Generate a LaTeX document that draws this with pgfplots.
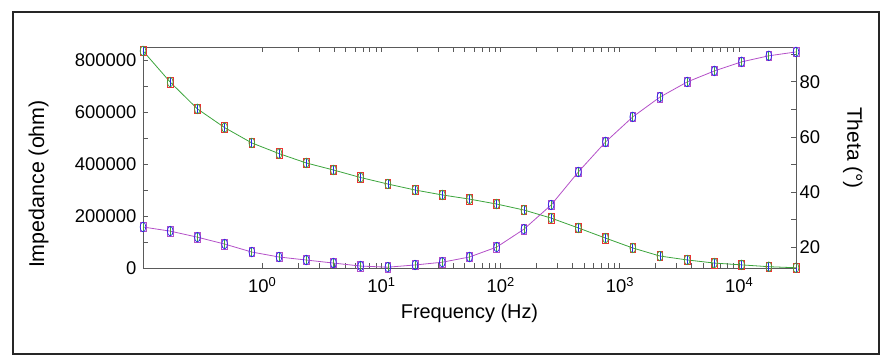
\documentclass[border=0pt]{standalone}
\usepackage{pgfplots}
\usepackage{pgfplotstable}
\pgfplotsset{compat=1.18}
\usepackage{fontspec}
\setmainfont{Liberation Sans}
\definecolor{zgreen}{RGB}{60,165,60}
\definecolor{tpurple}{RGB}{180,80,200}
\definecolor{mred}{RGB}{235,50,50}
\definecolor{mblue}{RGB}{40,40,235}
\definecolor{axgray}{RGB}{90,90,90}

\pgfplotstableread{
f Z T
0.1 835000 27.3
0.1691 715000 25.8
0.2860 612000 23.6
0.4837 540000 21.1
0.8180 481000 18.2
1.3836 440000 16.4
2.340 404000 15.3
3.957 377000 14.2
6.693 348000 13.1
11.32 323000 12.7
19.15 300000 13.5
32.38 281000 14.5
54.77 265000 16.4
92.63 246000 20.0
156.7 223000 26.5
265.0 192000 35.3
448.2 154000 47.3
758.0 115000 58.2
1282 77000 67.3
2168 46000 74.5
3667 31000 80.0
6202 19000 84.0
10486 12000 87.3
17738 5000 89.5
30000 1000 90.9
}\datatable

\begin{document}
\begin{tikzpicture}
\path[use as bounding box] (0,0) rectangle (886bp,-364bp);
\draw[line width=2bp, black!85] (13bp,-12bp) rectangle (879bp,-354bp);

\begin{axis}[
  at={(143bp,-268bp)}, anchor=south west,
  width=653bp, height=221bp, scale only axis,
  xmode=log, xmin=0.1, xmax=30000,
  axis line style={axgray, line width=0.9bp},
  tick style={axgray, line width=0.9bp},
  major tick length=5bp, minor tick length=5bp,
  tick align=inside,
  tick label style={font=\fontsize{18.5}{18.5}\selectfont},
  yticklabel style={xshift=-3bp, /pgf/number format/assume math mode=true, /pgf/number format/fixed, /pgf/number format/1000 sep={}},
  xticklabel style={yshift=-6bp},
  scaled y ticks=false,
  clip=false,
  ymin=0, ymax=850000,
  ytick={0,200000,400000,600000,800000},
  minor ytick={100000,300000,500000,700000},
  ytick pos=left,
  xtick={1,10,100,1000,10000},
  xticklabels={10\textsuperscript{0},10\textsuperscript{1},10\textsuperscript{2},10\textsuperscript{3},10\textsuperscript{4}},
  xtick pos=both,
  xlabel={Frequency (Hz)},
  ylabel={Impedance (ohm)},
  every axis x label/.style={at={(rel axis cs:0.5,-0.204)}, anchor=center, font=\fontsize{20}{20}\selectfont},
  every axis y label/.style={at={(rel axis cs:-0.16,0.38)}, rotate=90, anchor=center, font=\fontsize{21.5}{21.5}\selectfont},
]
\addplot[zgreen, line width=0.8bp, no marks] table[x=f,y=Z]{\datatable};
\addplot[mred, only marks, mark=square, mark size=4.8bp, mark options={xscale=0.6, line width=0.7bp}] table[x=f,y=Z]{\datatable};
\addplot[mblue, only marks, mark=|, mark size=4.8bp, mark options={line width=0.7bp}] table[x=f,y=Z]{\datatable};
\addplot[zgreen, only marks, mark=o, mark size=4.8bp, mark options={xscale=0.6, line width=0.7bp}] table[x=f,y=Z]{\datatable};
\end{axis}

\begin{axis}[
  at={(143bp,-268bp)}, anchor=south west,
  width=653bp, height=221bp, scale only axis,
  xmode=log, xmin=0.1, xmax=30000,
  axis line style={axgray, line width=0.9bp},
  tick style={axgray, line width=0.9bp},
  major tick length=5bp, minor tick length=5bp,
  tick align=inside,
  tick label style={font=\fontsize{18.5}{18.5}\selectfont},
  yticklabel style={/pgf/number format/assume math mode=true},
  clip=false,
  ymin=12.4, ymax=92.7,
  axis x line=none,
  axis y line*=right,
  ytick={20,40,60,80},
  minor ytick={30,50,70,90},
  ylabel={Theta (°)},
  every axis y label/.style={at={(rel axis cs:1.087,0.543)}, rotate=-90, anchor=center, font=\fontsize{21}{21}\selectfont},
]
\addplot[tpurple, line width=0.8bp, no marks] table[x=f,y=T]{\datatable};
\addplot[tpurple, only marks, mark=square, mark size=4.8bp, mark options={xscale=0.6, line width=0.7bp}] table[x=f,y=T]{\datatable};
\addplot[zgreen, only marks, mark=|, mark size=4.8bp, mark options={line width=0.7bp}] table[x=f,y=T]{\datatable};
\addplot[mblue, only marks, mark=o, mark size=4.8bp, mark options={xscale=0.6, line width=0.7bp}] table[x=f,y=T]{\datatable};
\end{axis}
\end{tikzpicture}
\end{document}
